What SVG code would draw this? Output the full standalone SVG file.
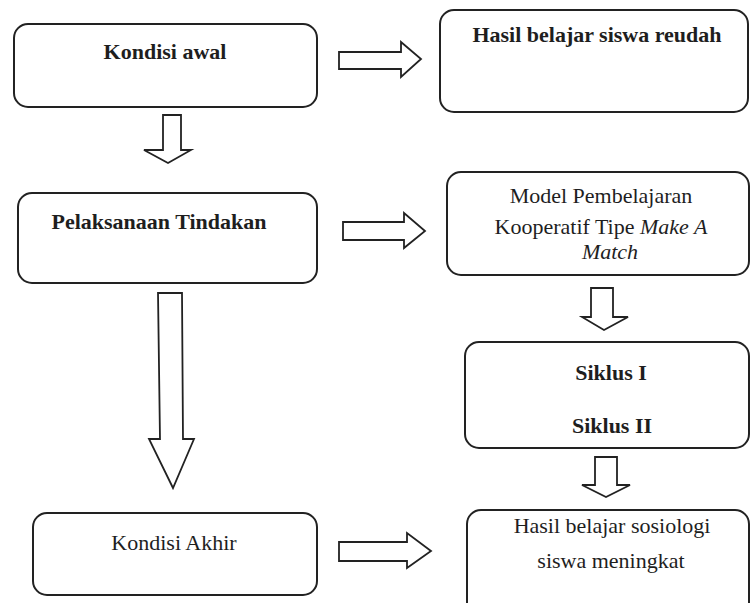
<svg xmlns="http://www.w3.org/2000/svg" width="750" height="603" viewBox="0 0 750 603">
<style>
.box{fill:#fff;stroke:#222;stroke-width:2}
.arr{fill:#fff;stroke:#222;stroke-width:1.8;stroke-linejoin:miter}
text{font-family:"Liberation Serif",Tinos,"Times New Roman","DejaVu Serif",serif;font-weight:normal;font-size:22px;fill:#1e1e1e;text-anchor:middle}
text.b{font-weight:bold}
.i{font-style:italic}
</style>
<rect width="750" height="603" fill="#fff"/>
<g id="connectors">
<polygon class="arr" points="339,52 401,52 401,42 421,59 401,77 401,69 339,69"/>
<polygon class="arr" points="343,222 404,222 404,213 425,231 404,248 404,240 343,240"/>
<polygon class="arr" points="339,542 407,542 407,533 431,551 407,568 407,561 339,561"/>
<polygon class="arr" points="163,115 181,115 181,150 191,150 168,163 144,150 163,150"/>
<polygon class="arr" points="158,293 182,293 183,439 194,439 173,488 149,439 160,439"/>
<polygon class="arr" points="591,288 613,288 613,317 628,317 604,330 582,317 591,317"/>
<polygon class="arr" points="595,457 617,457 617,485 630,485 606,497 582,485 595,485"/>
</g>
<g id="kondisi-awal">
<rect class="box" x="14" y="24" width="303" height="83" rx="14"/>
<text class="b" x="165" y="59" font-size="21">Kondisi awal</text>
</g>
<g id="hasil-rendah">
<rect class="box" x="440" y="10" width="308" height="102" rx="14"/>
<text class="b" x="597" y="42" font-size="21">Hasil belajar siswa reudah</text>
</g>
<g id="pelaksanaan">
<rect class="box" x="18" y="193" width="299" height="90" rx="14"/>
<text class="b" x="159" y="229">Pelaksanaan Tindakan</text>
</g>
<g id="model">
<rect class="box" x="447" y="172" width="302" height="103" rx="14"/>
<text x="601" y="203">Model Pembelajaran</text>
<text x="601" y="234">Kooperatif Tipe <tspan class="i">Make A</tspan></text>
<text class="i" x="610" y="259">Match</text>
</g>
<g id="siklus">
<rect class="box" x="465" y="342" width="284" height="106" rx="14"/>
<text class="b" x="611" y="380">Siklus I</text>
<text class="b" x="612" y="433">Siklus II</text>
</g>
<g id="kondisi-akhir">
<rect class="box" x="33" y="513" width="284" height="82" rx="14"/>
<text x="174" y="550">Kondisi Akhir</text>
</g>
<g id="hasil-meningkat">
<rect class="box" x="467" y="510" width="282" height="110" rx="14"/>
<text x="612" y="533" font-size="23">Hasil belajar sosiologi</text>
<text x="611" y="568" font-size="23">siswa meningkat</text>
</g>
</svg>
